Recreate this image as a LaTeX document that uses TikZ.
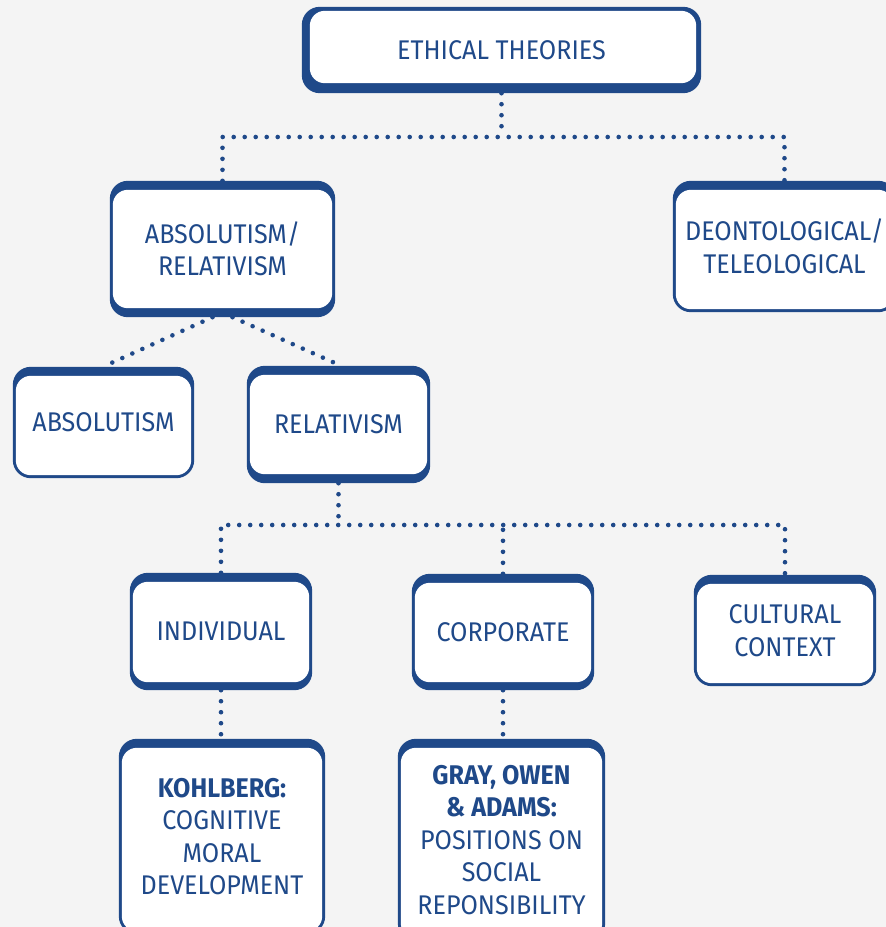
\documentclass[tikz,border=0pt]{standalone}
\usepackage{fontspec}
\setmainfont{Fira Sans}[FakeStretch=0.93]
\usetikzlibrary{calc,backgrounds}
\definecolor{ink}{RGB}{31,73,137}
\definecolor{paper}{RGB}{244,244,244}
\tikzset{panel/.style={text=ink,align=center,inner sep=0pt,font=\fontsize{27}{32.5}\selectfont},
  dots/.style={ink,line width=4.6pt,line cap=round,dash pattern=on 0pt off 11pt}}
% dark frame with a white face inset by the given band widths
\newcommand\panelbox[5]{%
  \fill[ink,rounded corners=18pt] (#1.north west) rectangle (#1.south east);
  \fill[white,rounded corners=15pt] ([xshift=#4pt,yshift=-#2pt]#1.north west)
    rectangle ([xshift=-#5pt,yshift=#3pt]#1.south east);}
\begin{document}
\begin{tikzpicture}[x=1pt,y=-1pt]
\useasboundingbox (0,0) rectangle (886,927);
\clip (0,0) rectangle (886,927);
% boxes
\node[panel,minimum width=399,minimum height=86] (ethics) at (501.5,50) {ETHICAL THEORIES};
\node[panel,minimum width=225,minimum height=136] (absrel) at (222.5,249) {ABSOLUTISM/\\RELATIVISM};
\node[panel,minimum width=223,minimum height=131] (deont) at (784.5,246.5) {DEONTOLOGICAL/\\TELEOLOGICAL};
\node[panel,minimum width=181,minimum height=111] (absol) at (103.5,422.5) {ABSOLUTISM};
\node[panel,minimum width=183,minimum height=117] (relat) at (338.5,424.5) {RELATIVISM};
\node[panel,minimum width=182,minimum height=117] (indiv) at (221,631.5) {INDIVIDUAL};
\node[panel,minimum width=182,minimum height=116] (corp) at (503,632) {CORPORATE};
\node[panel,minimum width=182,minimum height=111] (cult) at (785,630.5) {CULTURAL\\CONTEXT};
\node[panel,minimum width=206,minimum height=195] (kohl) at (222,836.5)
  {\textbf{KOHLBERG:}\\COGNITIVE\\MORAL\\DEVELOPMENT};
\node[panel,minimum width=207,minimum height=202] (gray) at (501.5,840)
  {\textbf{GRAY, OWEN}\\\textbf{\& ADAMS:}\\POSITIONS ON\\SOCIAL\\REPONSIBILITY};
\begin{scope}[on background layer]
\fill[paper] (0,0) rectangle (886,927);
\panelbox{ethics}{4}{10}{8}{5}
\foreach \n/\t/\b in {absrel/9/9,deont/9/3,absol/9/3,relat/9/9,indiv/9/8,corp/9/8,cult/9/3,kohl/9/3,gray/9/3}
  {\panelbox{\n}{\t}{\b}{3}{3}}
\end{scope}
% connectors
\coordinate (bar1) at (501.5,137);
\coordinate (bar2) at (338.5,525);
\draw[dots] (ethics.south) -- (bar1);
\draw[dots] (absrel.north) |- (bar1) -| (deont.north);
\draw[dots] ($(absrel.south)+(-10,0)$) -- ($(absol.north)+(6,-3)$);
\draw[dots] ($(absrel.south)+(10,0)$) -- ($(relat.north)+(-4,-3)$);
\draw[dots] (relat.south) -- (bar2);
\draw[dots] (indiv.north) |- (bar2) -| (cult.north);
\draw[dots] (corp.north) -- (corp.north |- bar2);
\draw[dots] (indiv.south) -- (indiv.south |- kohl.north);
\draw[dots] (corp.south) -- (corp.south |- gray.north);
\end{tikzpicture}
\end{document}
